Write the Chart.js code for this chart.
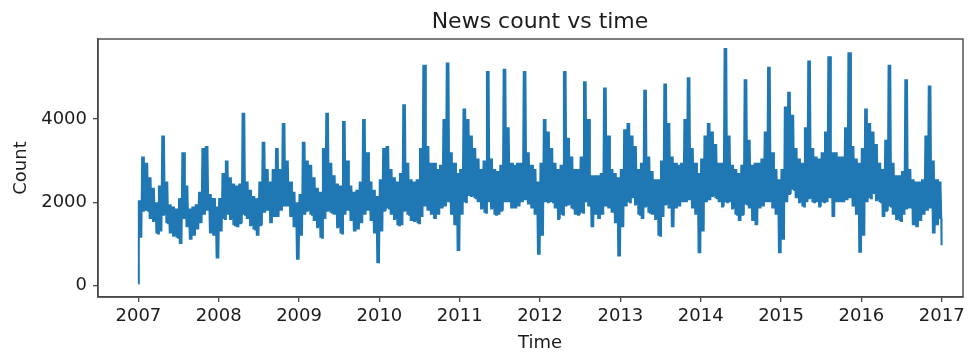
<!DOCTYPE html>
<html>
<head>
<meta charset="utf-8">
<title>News count vs time</title>
<script src="https://cdn.jsdelivr.net/npm/chart.js@4.4.1/dist/chart.umd.min.js"></script>
<style>
  html, body { margin: 0; padding: 0; background: #ffffff; }
  #wrap { position: relative; width: 975px; height: 354px; }
</style>
</head>
<body>
<div id="wrap"><canvas id="chart" width="975" height="354"></canvas></div>
<script>
// Daily news counts, summarised per half-month period (24 per year):
// the weekday high and the weekend low of each period.
const firstDayCount = 50;   // 2007-01-01
const lastDayCount = 970;   // 2016-12-31

const high2007 = [2050, 3100, 2950, 2600, 2350, 2000, 2400, 3600, 2500, 1950, 1900, 1850, 2100, 3200, 2400, 1850, 1900, 1950, 2250, 3300, 3350, 2200, 2100, 1900];
const low2007  = [1150, 1800, 1800, 1600, 1550, 1250, 1300, 1700, 1500, 1250, 1200, 1150, 1000, 1600, 1400, 1100, 1200, 1350, 1500, 1700, 1800, 1250, 1200, 650];

const high2008 = [2100, 2700, 3000, 2600, 2450, 2400, 2450, 4150, 2500, 2300, 2150, 2100, 2500, 3450, 2800, 2500, 2800, 3300, 2800, 3900, 3000, 2500, 2250, 2000];
const low2008  = [1300, 1600, 1700, 1600, 1450, 1400, 1500, 1700, 1600, 1450, 1350, 1200, 1450, 1750, 1800, 1500, 1650, 1650, 1800, 1900, 1900, 1650, 1400, 620];

const high2009 = [2200, 3450, 3000, 2900, 2600, 2350, 2250, 3300, 4150, 2950, 2650, 2450, 2400, 3950, 3000, 2400, 2250, 2300, 2500, 4000, 3200, 2500, 2300, 2150];
const low2009  = [1200, 1700, 1800, 1700, 1550, 1400, 1150, 1600, 1800, 1750, 1700, 1400, 1250, 1700, 1800, 1550, 1300, 1350, 1500, 1700, 1800, 1550, 1250, 540];

const high2010 = [2550, 3300, 3350, 2800, 2600, 2500, 2700, 4350, 2950, 2550, 2500, 2550, 3300, 5300, 3350, 2950, 2950, 2800, 2900, 4000, 5350, 3200, 2950, 2700];
const low2010  = [1300, 1800, 1850, 1700, 1600, 1450, 1450, 1800, 1700, 1550, 1550, 1500, 1650, 1900, 1800, 1700, 1600, 1700, 1850, 1900, 2000, 1700, 1450, 830];

const high2011 = [2800, 4250, 4000, 3600, 3300, 3050, 2800, 3000, 5150, 3050, 2800, 2750, 2900, 5200, 3800, 2950, 2900, 2950, 2950, 5150, 3200, 2900, 2800, 2500];
const low2011  = [1700, 2000, 2150, 2150, 2100, 2000, 1850, 1750, 2000, 1850, 1700, 1700, 1800, 2000, 2000, 1850, 1850, 1900, 2000, 2050, 1950, 1850, 1700, 740];

const high2012 = [2950, 4000, 3700, 3300, 2950, 2800, 2900, 5150, 3550, 3100, 2800, 2800, 3100, 4900, 4000, 2650, 2650, 2650, 2700, 4750, 3600, 2800, 2700, 2600];
const low2012  = [1200, 2000, 2000, 2000, 1850, 1600, 1700, 1900, 1950, 1850, 1700, 1700, 1750, 2000, 1900, 1400, 1700, 1600, 1700, 1900, 1850, 1750, 1500, 700];

const high2013 = [2800, 3750, 3900, 3600, 3350, 2800, 2950, 4700, 3100, 2750, 2550, 2550, 3000, 4850, 3900, 3100, 2950, 2900, 2950, 4000, 5000, 3300, 2950, 2700];
const low2013  = [1400, 1900, 2000, 2100, 1950, 1700, 1600, 1900, 1750, 1700, 1600, 1200, 1650, 1950, 1850, 1400, 1850, 1900, 2000, 2000, 2050, 1850, 1700, 780];

const high2014 = [3050, 3600, 3900, 3700, 3400, 2950, 2950, 5700, 3600, 2900, 2800, 2700, 2900, 4950, 3500, 2900, 2950, 2950, 3050, 3700, 5250, 3200, 2800, 2550];
const low2014  = [1300, 2000, 2050, 2150, 2100, 2000, 1900, 2000, 2000, 1850, 1700, 1550, 1700, 1950, 1850, 1550, 1450, 1850, 1900, 2000, 2000, 1850, 1700, 780];

const high2015 = [2800, 4300, 4650, 4100, 3300, 3050, 2950, 3800, 5400, 3300, 3100, 3050, 3200, 3700, 5500, 3200, 3200, 3100, 3100, 3800, 5600, 3350, 3050, 2950];
const low2015  = [1100, 2000, 2200, 2300, 2100, 2000, 1900, 2000, 2100, 2000, 2000, 1900, 2000, 2000, 2100, 1650, 2000, 2000, 2000, 2050, 2100, 1900, 1700, 790];

const high2016 = [3300, 4250, 3900, 3700, 3400, 2950, 2800, 3500, 5300, 2950, 2650, 2650, 2750, 4950, 2800, 2550, 2500, 2500, 2550, 3600, 4800, 3000, 2550, 2500];
const low2016  = [1200, 2000, 2100, 2200, 2050, 2000, 1650, 1800, 1900, 1700, 1600, 1550, 1700, 1850, 1850, 1450, 1400, 1550, 1700, 1800, 1850, 1250, 1450, 1600];

const years = [2007, 2008, 2009, 2010, 2011, 2012, 2013, 2014, 2015, 2016];
const highs = [high2007, high2008, high2009, high2010, high2011, high2012, high2013, high2014, high2015, high2016];
const lows  = [low2007, low2008, low2009, low2010, low2011, low2012, low2013, low2014, low2015, low2016];

const yearTicks = [2007, 2008, 2009, 2010, 2011, 2012, 2013, 2014, 2015, 2016, 2017];
const countTicks = [0, 2000, 4000];

// Time axis in decimal years. Each half-month holds two weeks; every week
// runs from the period's weekday high down to its weekend low.
const PERIODS = 24;
const WEEKS = 2;
const points = [{ x: years[0], y: firstDayCount }];
years.forEach((yr, i) => {
  for (let k = 0; k < PERIODS; k++) {
    for (let w = 0; w < WEEKS; w++) {
      const start = yr + (k + w / WEEKS) / PERIODS;
      const step = 1 / (PERIODS * WEEKS);
      points.push({ x: start + 0.25 * step, y: highs[i][k] });
      points.push({ x: start + 0.75 * step, y: lows[i][k] });
    }
  }
});
points.push({ x: years[years.length - 1] + 0.998, y: lastDayCount });

const FONT = "'DejaVu Sans', 'Liberation Sans', sans-serif";
const TEXT = '#1c1c1c';
const SPINE = '#474747';

// Box round the plotting area (top and right sides are not drawn by the axes).
const framePlugin = {
  id: 'frame',
  afterDraw(chart) {
    const { ctx, chartArea: a } = chart;
    ctx.save();
    ctx.strokeStyle = SPINE;
    ctx.lineWidth = 1.4;
    ctx.strokeRect(a.left, a.top, a.right - a.left, a.bottom - a.top);
    ctx.restore();
  }
};

// Chart title and the time-axis caption.
const captionPlugin = {
  id: 'captions',
  afterDraw(chart) {
    const { ctx } = chart;
    ctx.save();
    ctx.fillStyle = TEXT;
    ctx.textAlign = 'center';
    ctx.textBaseline = 'alphabetic';
    ctx.font = '22px ' + FONT;
    ctx.fillText('News count vs time', 540, 27.5);
    ctx.font = '18px ' + FONT;
    ctx.fillText('Time', 540, 348);
    ctx.restore();
  }
};

new Chart(document.getElementById('chart'), {
  type: 'line',
  data: {
    datasets: [{
      label: 'Count',
      data: points,
      borderColor: '#1f77b4',
      borderWidth: 2,
      pointRadius: 0,
      tension: 0,
      fill: false
    }]
  },
  options: {
    responsive: false,
    animation: false,
    events: [],
    layout: { padding: { top: 39, right: 12, left: 0, bottom: 0 } },
    plugins: {
      legend: { display: false },
      title: { display: false },
      tooltip: { enabled: false }
    },
    scales: {
      x: {
        type: 'linear',
        min: 2006.497,
        max: 2017.265,
        afterBuildTicks(scale) { scale.ticks = yearTicks.map(v => ({ value: v })); },
        afterFit(scale) { scale.height = 57; scale.paddingLeft = 0; scale.paddingRight = 0; },
        ticks: {
          autoSkip: false,
          maxRotation: 0,
          padding: 4,
          color: TEXT,
          font: { family: FONT, size: 18 },
          callback: v => String(v)
        },
        grid: { display: true, drawOnChartArea: false, drawTicks: true, tickLength: 5, color: SPINE, lineWidth: 1.3 },
        border: { display: true, color: SPINE, width: 1.4 }
      },
      y: {
        type: 'linear',
        min: -271,
        max: 5916,
        afterBuildTicks(scale) { scale.ticks = countTicks.map(v => ({ value: v })); },
        afterFit(scale) { scale.width = 98; scale.paddingTop = 0; scale.paddingBottom = 0; },
        ticks: {
          padding: 6,
          color: TEXT,
          font: { family: FONT, size: 18 },
          callback: v => String(v)
        },
        title: {
          display: true,
          text: 'Count',
          color: TEXT,
          font: { family: FONT, size: 18 },
          padding: { top: 11, bottom: 0 }
        },
        grid: { display: true, drawOnChartArea: false, drawTicks: true, tickLength: 5, color: SPINE, lineWidth: 1.3 },
        border: { display: true, color: SPINE, width: 1.4 }
      }
    }
  },
  plugins: [framePlugin, captionPlugin]
});
</script>
</body>
</html>
